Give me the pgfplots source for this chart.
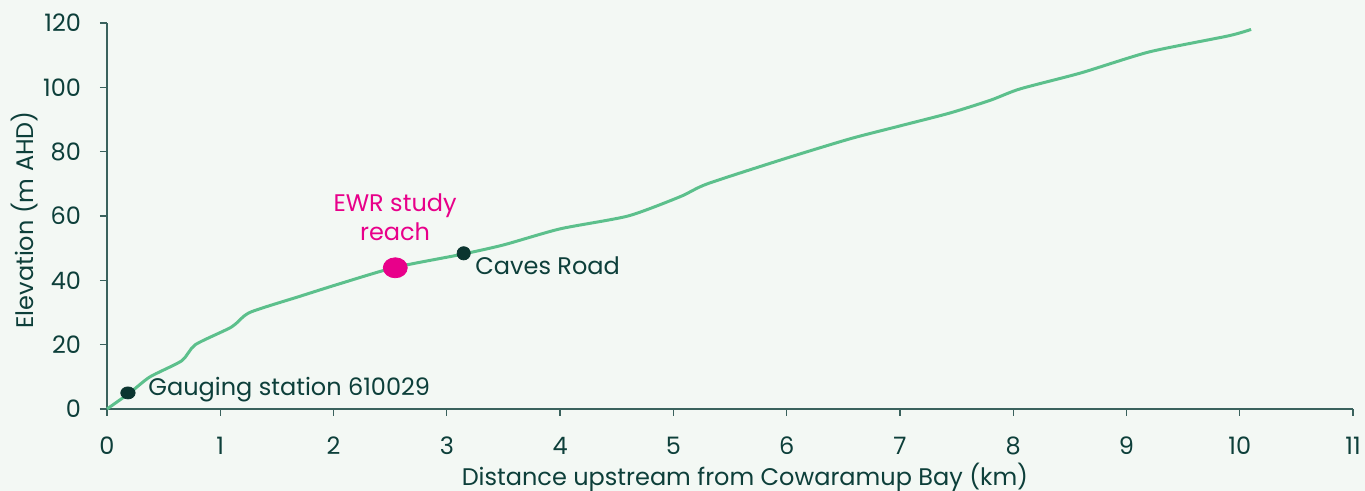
\documentclass[border=0pt]{standalone}
\usepackage{pgfplots}
\pgfplotsset{compat=1.18}
\usepackage{fontspec}
\setmainfont{Poppins}
\definecolor{bg}{HTML}{F3F8F4}
\definecolor{txt}{HTML}{0D3F3A}
\definecolor{axc}{HTML}{3A625D}
\definecolor{linec}{HTML}{5CC08C}
\definecolor{pinkc}{HTML}{E8008A}
\definecolor{dotc}{HTML}{0B3530}
\pagecolor{bg}
\begin{document}
\begin{tikzpicture}
\begin{axis}[
  scale only axis, width=623pt, height=193pt,
  xmin=0, xmax=11, ymin=0, ymax=120,
  axis lines=left, axis line style={axc, line width=0.6pt, -},
  xtick={0,1,...,11}, ytick={0,20,...,120},
  tick align=outside, major tick length=3.5pt,
  tick style={axc, line width=0.6pt},
  tick label style={font=\fontsize{12}{14}\selectfont, text=txt},
  xticklabel style={yshift=-7pt},
  yticklabel style={xshift=-6pt},
  /pgf/number format/assume math mode=true,
  xlabel={Distance upstream from Cowaramup Bay (km)},
  ylabel={Elevation (m AHD)},
  label style={font=\fontsize{12}{14}\selectfont, text=txt},
  xlabel style={at={(axis description cs:0.512,-0.197)}, anchor=base},
  ylabel style={at={(axis description cs:-0.0658,0.49)}, anchor=center},
  clip=false,
]
\addplot[linec, line width=1.5pt, smooth, tension=0.4] coordinates {
(0,0) (0.2,5) (0.38,10) (0.66,15) (0.78,20) (1.1,25.5) (1.26,30) (1.7,35)
(2.06,39) (2.54,44) (3.12,48) (3.5,51) (4.0,56) (4.6,60) (5.06,66) (5.3,70)
(6.0,78) (6.56,84) (7.0,88) (7.44,92) (7.8,96) (8.06,99.5) (8.6,104.5)
(9.2,111) (9.9,116) (10.1,118)
};
\addplot[only marks, mark=*, mark size=3pt, dotc, mark options={xscale=1.2}] coordinates {(0.185,5)};
\addplot[only marks, mark=*, mark size=3.3pt, dotc] coordinates {(3.149,48.4)};
\addplot[only marks, mark=*, mark size=5pt, pinkc, mark options={xscale=1.2}] coordinates {(2.545,43.9)};
\node[anchor=west, text=txt, font=\fontsize{12}{14}\selectfont, inner sep=0pt] at (axis cs:0.362,6.0) {Gauging station 610029};
\node[anchor=west, text=txt, font=\fontsize{12}{14}\selectfont, inner sep=0pt] at (axis cs:3.249,44.6) {Caves Road};
\node[align=center, text=pinkc, font=\fontsize{12}{14.5}\selectfont, inner sep=0pt] at (axis cs:2.543,59.7) {EWR study\\reach};
\coordinate (o) at (axis cs:0,0);
\end{axis}
\pgfresetboundingbox
\path[use as bounding box] ([shift={(-53.5pt,-41pt)}]o) rectangle ([shift={(629pt,204.5pt)}]o);
\end{tikzpicture}
\end{document}
